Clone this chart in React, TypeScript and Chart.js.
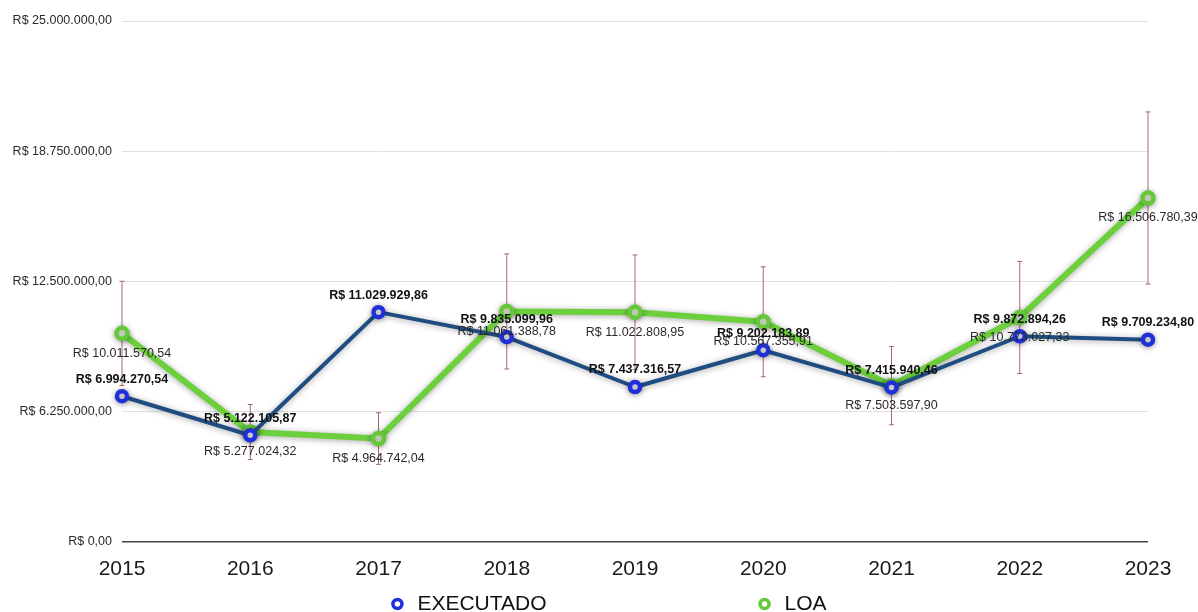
import React, { useEffect, useRef } from "react";
import { Chart, registerables } from "chart.js";

Chart.register(...registerables);

const years = ["2015", "2016", "2017", "2018", "2019", "2020", "2021", "2022", "2023"];
const executado = [
  6994270.54, 5122105.87, 11029929.86, 9835099.96, 7437316.57, 9202183.89, 7415940.46, 9872894.26, 9709234.8,
];
const loa = [
  10011570.54, 5277024.32, 4964742.04, 11061388.78, 11022808.95, 10567355.91, 7503597.9, 10773027.33, 16506780.39,
];
const loaErro = [2500000, 1320000, 1240000, 2760000, 2750000, 2640000, 1880000, 2690000, 4130000];
const yMin = 0;
const yMax = 25000000;
const yStep = 6250000;

const FONT = "'Liberation Sans', Arial, Helvetica, sans-serif";

function brl(v: number): string {
  const fixed = Math.abs(v).toFixed(2);
  const [intPart, dec] = fixed.split(".");
  const intFmt = intPart.replace(/\B(?=(\d{3})+(?!\d))/g, ".");
  return "R$ " + (v < 0 ? "-" : "") + intFmt + "," + dec;
}

const shadowPlugin = {
  id: "lineShadow",
  beforeDatasetDraw(chart: any) {
    const ctx = chart.ctx;
    ctx.save();
    ctx.shadowColor = "rgba(0,0,0,0.35)";
    ctx.shadowBlur = 6;
    ctx.shadowOffsetY = 1;
  },
  afterDatasetDraw(chart: any) {
    chart.ctx.restore();
  },
};

const errorBarPlugin = {
  id: "errorBars",
  beforeDatasetsDraw(chart: any) {
    const ctx = chart.ctx;
    const xs = chart.scales.x;
    const ys = chart.scales.y;
    ctx.save();
    ctx.strokeStyle = "rgba(150,80,75,0.85)";
    ctx.lineWidth = 1;
    loa.forEach((v, i) => {
      const x = xs.getPixelForValue(i);
      const yT = ys.getPixelForValue(v + loaErro[i]);
      const yB = ys.getPixelForValue(v - loaErro[i]);
      ctx.beginPath();
      ctx.moveTo(x, yT);
      ctx.lineTo(x, yB);
      ctx.moveTo(x - 2.5, yT);
      ctx.lineTo(x + 2.5, yT);
      ctx.moveTo(x - 2.5, yB);
      ctx.lineTo(x + 2.5, yB);
      ctx.stroke();
    });
    ctx.restore();
  },
};

const dataLabelPlugin = {
  id: "dataLabels",
  afterDatasetsDraw(chart: any) {
    const ctx = chart.ctx;
    ctx.save();
    ctx.textAlign = "center";
    ctx.textBaseline = "middle";
    // LOA labels (below points)
    const m1 = chart.getDatasetMeta(1);
    ctx.font = `12.5px ${FONT}`;
    ctx.fillStyle = "#2a2a2a";
    m1.data.forEach((pt: any, i: number) => {
      ctx.fillText(brl(loa[i]), pt.x, pt.y + 20);
    });
    // EXECUTADO labels (above points)
    const m0 = chart.getDatasetMeta(0);
    ctx.font = `bold 12.5px ${FONT}`;
    ctx.fillStyle = "#111111";
    m0.data.forEach((pt: any, i: number) => {
      ctx.fillText(brl(executado[i]), pt.x, pt.y - 17);
    });
    ctx.restore();
  },
};

const legendPlugin = {
  id: "customLegend",
  afterDraw(chart: any) {
    const ctx = chart.ctx;
    const ds = chart.data.datasets;
    ctx.save();
    ctx.font = `21px ${FONT}`;
    ctx.textBaseline = "middle";
    ctx.textAlign = "left";
    const markerToText = 20;
    const gap = 212;
    const widths = ds.map((d: any) => markerToText + 6 + ctx.measureText(d.label).width);
    const total = widths.reduce((a: number, b: number) => a + b, 0) + gap * (ds.length - 1);
    let x = chart.width / 2 + 10 - total / 2;
    const y = chart.height - 8;
    ds.forEach((d: any, i: number) => {
      const cx = x + 6;
      ctx.beginPath();
      ctx.arc(cx, y, 4.5, 0, Math.PI * 2);
      ctx.fillStyle = "#ffffff";
      ctx.fill();
      ctx.lineWidth = 3.5;
      ctx.strokeStyle = d.pointBorderColor;
      ctx.stroke();
      ctx.fillStyle = "#111111";
      ctx.fillText(d.label, cx + markerToText, y);
      x += widths[i] + gap;
    });
    ctx.restore();
  },
};

export default function App() {
  const canvasRef = useRef<HTMLCanvasElement | null>(null);

  useEffect(() => {
    if (!canvasRef.current) return;
    const chart = new Chart(canvasRef.current, {
      type: "line",
      data: {
        labels: years,
        datasets: [
          {
            label: "EXECUTADO",
            data: executado,
            borderColor: "#1f4d82",
            borderWidth: 4,
            pointBorderColor: "#1f30d8",
            pointBackgroundColor: "#ffffff",
            pointRadius: 5,
            pointBorderWidth: 4.5,
            pointHoverRadius: 5,
            tension: 0,
            borderJoinStyle: "round",
            clip: false,
          },
          {
            label: "LOA",
            data: loa,
            borderColor: "#6bd03c",
            borderWidth: 6,
            pointBorderColor: "#64c837",
            pointBackgroundColor: "#eef9e6",
            pointRadius: 5.5,
            pointBorderWidth: 4.5,
            pointHoverRadius: 5.5,
            tension: 0,
            borderJoinStyle: "round",
            clip: false,
          },
        ],
      },
      options: {
        responsive: false,
        animation: false,
        events: [],
        layout: { padding: { top: 21, right: 50, left: 0, bottom: 0 } },
        plugins: {
          legend: { display: false },
          tooltip: { enabled: false },
        },
        scales: {
          x: {
            type: "category",
            offset: false,
            grid: { display: false, drawTicks: false },
            border: { display: false },
            ticks: {
              color: "#1a1a1a",
              font: { family: FONT, size: 21 },
              padding: 15,
              maxRotation: 0,
              autoSkip: false,
            },
            afterFit(scale: any) {
              scale.height = 70;
            },
          },
          y: {
            min: yMin,
            max: yMax,
            grid: {
              drawTicks: false,
              color: (c: any) => (c.tick && c.tick.value === 0 ? "#444444" : "#e0e0e0"),
              lineWidth: (c: any) => (c.tick && c.tick.value === 0 ? 1.5 : 1),
            },
            border: { display: false },
            ticks: {
              stepSize: yStep,
              color: "#2a2a2a",
              font: { family: FONT, size: 12.5 },
              padding: 10,
              callback: (v: any) => brl(Number(v)),
            },
            afterFit(scale: any) {
              scale.width = 122;
            },
          },
        },
      },
      plugins: [errorBarPlugin, shadowPlugin, dataLabelPlugin, legendPlugin],
    } as any);
    return () => chart.destroy();
  }, []);

  return (
    <div style={{ position: "absolute", left: 0, top: 0, width: 1198, height: 612, background: "#ffffff" }}>
      <canvas ref={canvasRef} width={1198} height={612} style={{ display: "block" }} />
    </div>
  );
}
